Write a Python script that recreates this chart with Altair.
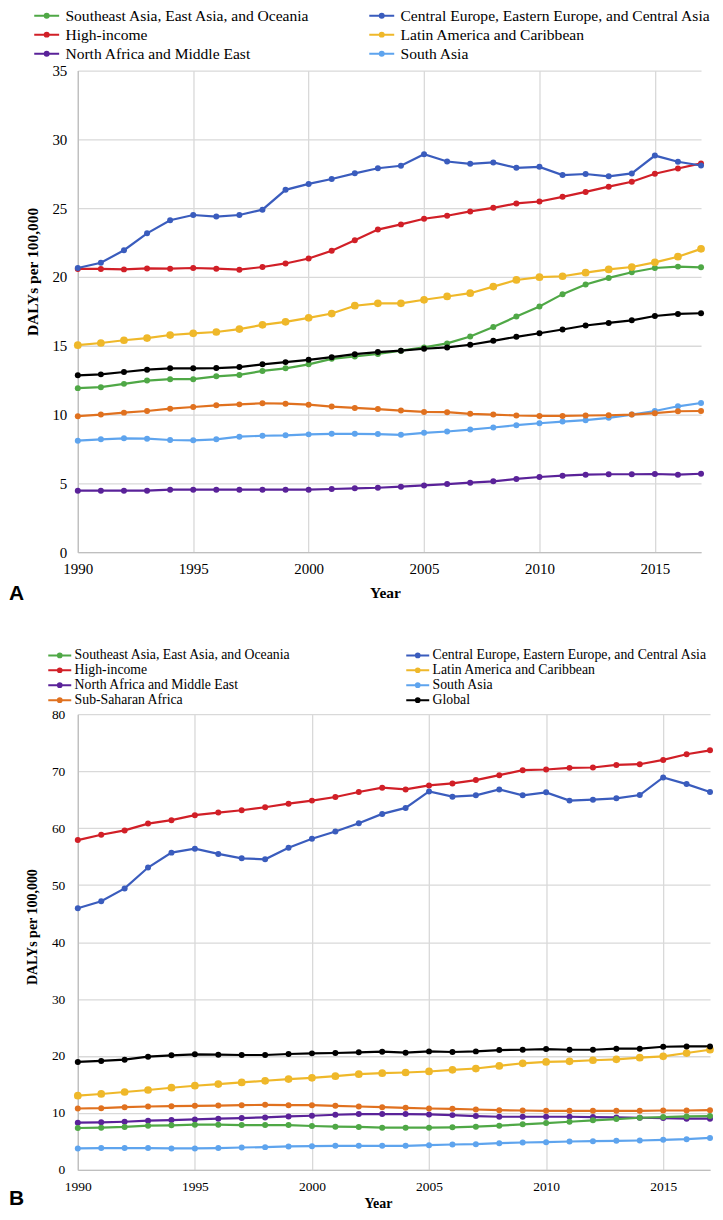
import altair as alt
import pandas as pd

years = list(range(1990, 2018))
regions = [
    "Southeast Asia, East Asia, and Oceania",
    "Central Europe, Eastern Europe, and Central Asia",
    "High-income",
    "Latin America and Caribbean",
    "North Africa and Middle East",
    "South Asia",
    "Sub-Saharan Africa",
    "Global",
]
colors = ["#4fa846", "#3a5cbd", "#d11f27", "#efb82a", "#5a2299", "#5ea4ee", "#e0711f", "#000000"]

# Panel A
sea_a = [11.92, 11.99, 12.23, 12.47, 12.57, 12.57, 12.78, 12.88, 13.17, 13.36, 13.65, 14.05, 14.22, 14.40,
         14.64, 14.88, 15.17, 15.67, 16.37, 17.12, 17.86, 18.75, 19.45, 19.93, 20.34, 20.65, 20.75, 20.70]
ce_a = [20.65, 21.03, 21.94, 23.17, 24.12, 24.50, 24.39, 24.50, 24.89, 26.33, 26.76, 27.12, 27.53, 27.90,
        28.08, 28.92, 28.39, 28.22, 28.32, 27.93, 28.00, 27.40, 27.48, 27.31, 27.52, 28.82, 28.37, 28.10]
hi_a = [20.58, 20.58, 20.55, 20.62, 20.60, 20.65, 20.60, 20.53, 20.72, 20.98, 21.34, 21.90, 22.66, 23.44,
        23.82, 24.23, 24.45, 24.76, 25.02, 25.34, 25.48, 25.82, 26.18, 26.56, 26.92, 27.50, 27.88, 28.25]
la_a = [15.04, 15.20, 15.40, 15.56, 15.78, 15.90, 16.00, 16.21, 16.52, 16.74, 17.03, 17.34, 17.91, 18.08,
        18.08, 18.34, 18.58, 18.82, 19.30, 19.78, 19.98, 20.05, 20.31, 20.55, 20.72, 21.06, 21.47, 22.04]
name_a = [4.47, 4.47, 4.47, 4.47, 4.54, 4.54, 4.54, 4.54, 4.54, 4.54, 4.54, 4.59, 4.64, 4.68,
          4.76, 4.85, 4.95, 5.05, 5.15, 5.32, 5.46, 5.56, 5.63, 5.66, 5.66, 5.68, 5.63, 5.70]
sa_a = [8.10, 8.20, 8.27, 8.25, 8.15, 8.13, 8.20, 8.39, 8.46, 8.49, 8.56, 8.60, 8.60, 8.58,
        8.53, 8.67, 8.77, 8.91, 9.06, 9.23, 9.37, 9.49, 9.59, 9.76, 10.00, 10.26, 10.60, 10.84]
ssa_a = [9.88, 10.00, 10.14, 10.26, 10.43, 10.55, 10.67, 10.74, 10.82, 10.79, 10.72, 10.58, 10.48, 10.40,
         10.29, 10.19, 10.17, 10.05, 10.00, 9.93, 9.90, 9.90, 9.93, 9.95, 10.00, 10.10, 10.24, 10.26]
gl_a = [12.85, 12.92, 13.09, 13.26, 13.36, 13.36, 13.38, 13.45, 13.65, 13.81, 13.98, 14.17, 14.39, 14.54,
        14.64, 14.78, 14.88, 15.07, 15.36, 15.65, 15.91, 16.18, 16.47, 16.66, 16.85, 17.16, 17.31, 17.36]

# Panel B
sea_b = [7.36, 7.42, 7.54, 7.77, 7.83, 7.94, 7.94, 7.88, 7.88, 7.88, 7.71, 7.59, 7.54, 7.42,
         7.42, 7.42, 7.48, 7.59, 7.77, 8.00, 8.23, 8.46, 8.70, 8.93, 9.16, 9.28, 9.39, 9.45]
ce_b = [45.93, 47.15, 49.42, 53.08, 55.70, 56.40, 55.47, 54.70, 54.53, 56.57, 58.14, 59.42, 60.87, 62.50,
        63.55, 66.45, 65.52, 65.76, 66.80, 65.76, 66.28, 64.83, 65.00, 65.23, 65.81, 68.90, 67.73, 66.34]
hi_b = [57.90, 58.84, 59.60, 60.80, 61.40, 62.27, 62.73, 63.14, 63.66, 64.30, 64.83, 65.47, 66.34, 67.10,
        66.80, 67.50, 67.85, 68.43, 69.30, 70.17, 70.29, 70.58, 70.64, 71.10, 71.22, 71.98, 72.97, 73.66]
la_b = [13.04, 13.33, 13.68, 14.03, 14.43, 14.78, 15.07, 15.36, 15.65, 15.94, 16.17, 16.46, 16.81, 16.99,
        17.10, 17.28, 17.57, 17.80, 18.26, 18.72, 18.96, 19.07, 19.25, 19.42, 19.71, 19.94, 20.52, 21.10]
name_b = [8.29, 8.35, 8.46, 8.64, 8.75, 8.87, 8.99, 9.10, 9.22, 9.39, 9.51, 9.68, 9.80, 9.80,
          9.80, 9.74, 9.62, 9.45, 9.33, 9.33, 9.33, 9.33, 9.28, 9.22, 9.16, 9.10, 8.99, 8.99]
sa_b = [3.77, 3.83, 3.83, 3.83, 3.77, 3.77, 3.83, 3.94, 4.00, 4.12, 4.17, 4.23, 4.23, 4.23,
        4.23, 4.35, 4.46, 4.52, 4.70, 4.81, 4.87, 4.99, 5.04, 5.10, 5.16, 5.28, 5.39, 5.62]
ssa_b = [10.78, 10.84, 11.01, 11.13, 11.19, 11.25, 11.30, 11.36, 11.42, 11.36, 11.36, 11.25, 11.13, 11.01,
         10.90, 10.78, 10.72, 10.61, 10.49, 10.43, 10.38, 10.38, 10.38, 10.38, 10.38, 10.43, 10.43, 10.49]
gl_b = [18.96, 19.13, 19.36, 19.88, 20.12, 20.29, 20.23, 20.17, 20.17, 20.35, 20.46, 20.52, 20.64, 20.75,
        20.58, 20.81, 20.70, 20.81, 21.04, 21.10, 21.22, 21.10, 21.10, 21.28, 21.28, 21.62, 21.68, 21.68]

x_ticks = [1990, 1995, 2000, 2005, 2010, 2015]
y_ticks_a = [0, 5, 10, 15, 20, 25, 30, 35]
y_ticks_b = [0, 10, 20, 30, 40, 50, 60, 70, 80]

draw_order = [5, 4, 6, 0, 3, 2, 1, 7]


def to_long(series):
    rows = []
    for i in draw_order:
        for yr, v in zip(years, series[i]):
            rows.append({"region": regions[i], "year": yr, "value": v})
    return pd.DataFrame(rows)


df_a = to_long([sea_a, ce_a, hi_a, la_a, name_a, sa_a, ssa_a, gl_a])
df_b = to_long([sea_b, ce_b, hi_b, la_b, name_b, sa_b, ssa_b, gl_b])

SERIF = "Liberation Serif"
SYM = ("M-2.5,0H2.5M-0.4,0A0.4,0.4,0,1,1,0.4,0A0.4,0.4,0,1,1,-0.4,0"
       "M-0.2,0A0.2,0.2,0,1,1,0.2,0A0.2,0.2,0,1,1,-0.2,0")


def panel(df, width, height, ymax, yticks, fs, lfs, tfs, legend_vals, lx, ly, rowpad, colpad, symsize,
          lab_off, ytitle_x, ytitle_y, xtitle_x, xtitle_y, lab_pad_x, lab_pad_y, letter, letter_x,
          letter_y):
    legend = alt.Legend(
        title=None, orient="none", legendX=lx, legendY=ly, columns=2, direction="horizontal",
        values=legend_vals, symbolType=SYM, symbolSize=symsize, symbolStrokeWidth=2,
        labelFont=SERIF, labelFontSize=lfs, labelColor="black", labelLimit=500,
        rowPadding=rowpad, columnPadding=colpad, labelOffset=lab_off, padding=0,
    )
    color = alt.Color("region:N", scale=alt.Scale(domain=regions, range=colors), legend=legend)
    x = alt.X("year:Q", scale=alt.Scale(domain=[1990, 2017], nice=False, zero=False),
              axis=alt.Axis(values=x_ticks, format="d", title="Year", labelFont=SERIF,
                            labelFontSize=fs, labelColor="black", labelPadding=lab_pad_x,
                            labelFlush=False,
                            titleFont=SERIF, titleFontSize=tfs, titleFontWeight="bold",
                            titleColor="black", titleX=xtitle_x, titleY=xtitle_y,
                            titleBaseline="alphabetic", titleAlign="center", ticks=False))
    y = alt.Y("value:Q", scale=alt.Scale(domain=[0, ymax], nice=False),
              axis=alt.Axis(values=yticks, title="DALYs per 100,000", labelFont=SERIF,
                            labelFontSize=fs, labelColor="black", labelPadding=lab_pad_y,
                            labelFlush=False,
                            titleFont=SERIF, titleFontSize=tfs, titleFontWeight="bold",
                            titleColor="black", titleX=ytitle_x, titleY=ytitle_y,
                            titleBaseline="middle", titleAlign="center", ticks=False))
    base = alt.Chart(df)
    lines = base.mark_line(strokeWidth=2.2).encode(x=x, y=y, color=color)
    pts = base.mark_point(filled=True, opacity=1).encode(
        x=x, y=y, color=color,
        size=alt.condition(alt.datum.region == "Latin America and Caribbean", alt.value(60), alt.value(36)),
    )
    lab = alt.Chart(pd.DataFrame({"t": [letter]})).mark_text(
        align="left", baseline="alphabetic", font="Liberation Sans", fontSize=21, fontWeight="bold",
        color="black"
    ).encode(text="t:N", x=alt.value(letter_x), y=alt.value(letter_y))
    return alt.layer(lines, pts, lab).properties(width=width, height=height)


chart_a = panel(df_a, 625, 483, 35, y_ticks_a, 15, 15.6, 15.5, regions[:6], -39, -63, 2.2, 54, 100,
                11, -45, 201.5, 308, 45, 9, 11, "A", -69, 531)
chart_b = panel(df_b, 634, 457, 80, y_ticks_b, 13.5, 13.8, 14, regions, -25, -66, 0, 110, 85,
                8, -45.5, 213, 301, 38, 10, 13, "B", -69, 492)

chart = alt.concat(chart_a, chart_b, columns=1, spacing=42.5, align="none",
                   padding={"left": 0, "top": -3, "right": 0, "bottom": 0}).resolve_scale(
    color="independent", x="independent", y="independent"
).resolve_legend(color="independent").configure_view(stroke="transparent").configure_axis(
    gridColor="#d9d9d9", gridWidth=1.3, domainColor="#bfbfbf", domainWidth=1.3
)

chart.save("out.html", embed_options={"renderer": "svg", "actions": False})
